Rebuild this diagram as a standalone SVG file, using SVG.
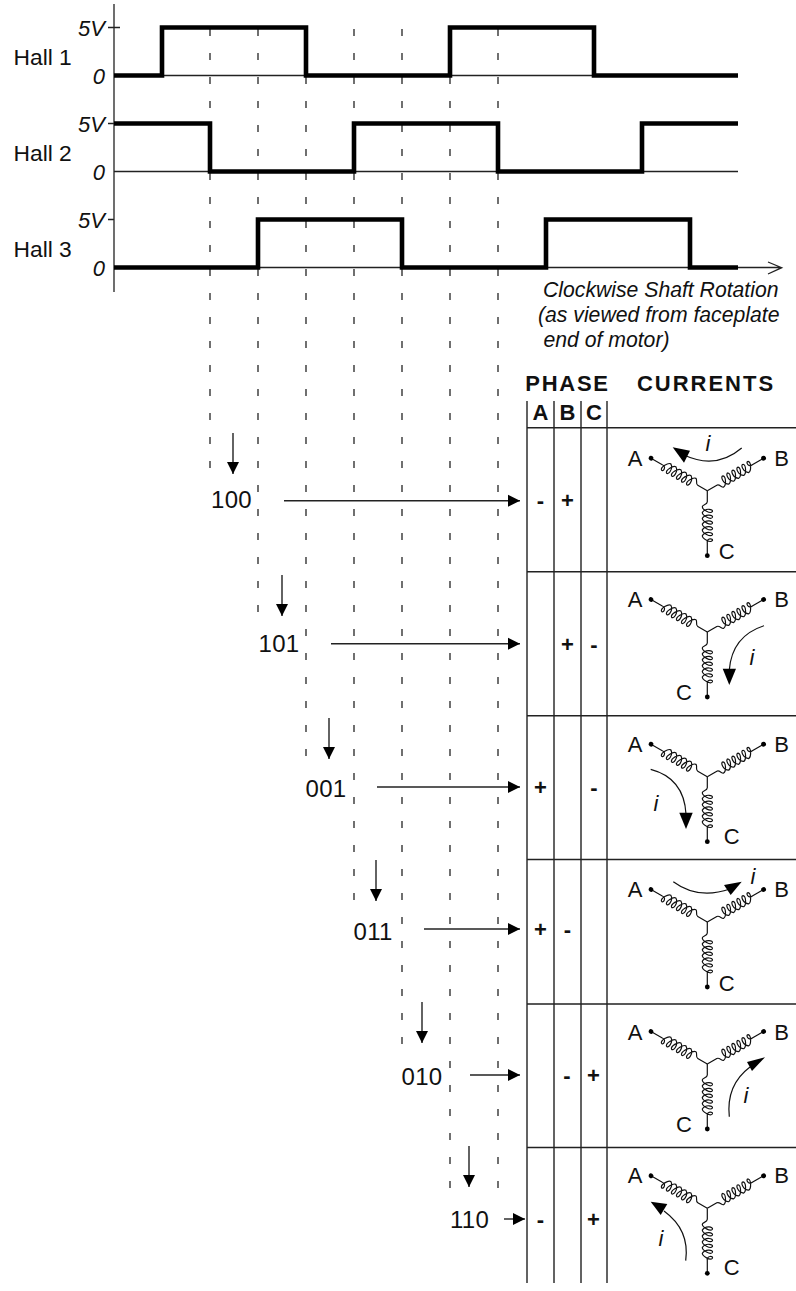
<svg xmlns="http://www.w3.org/2000/svg" xmlns:xlink="http://www.w3.org/1999/xlink" width="796" height="1291" viewBox="0 0 796 1291">
<style>
text{font-family:"Liberation Sans",Arial,sans-serif;font-size:22px;fill:#111}
.i{font-style:italic}.b{font-weight:bold;text-anchor:middle}.m{text-anchor:middle}.e{text-anchor:end}
.hall{font-size:22.8px}.cap{font-size:21.2px;font-style:italic}.st{font-size:24px;letter-spacing:.3px}
.thin{fill:none;stroke:#222;stroke-width:1.3}
.wave{fill:none;stroke:#000;stroke-width:4.6;stroke-linejoin:miter}
.dash{fill:none;stroke:#111;stroke-width:1.2;stroke-dasharray:7 17}
.grid{fill:none;stroke:#222;stroke-width:1.4}
.arr{fill:none;stroke:#222;stroke-width:1.4;marker-end:url(#h)}
.cur{fill:none;stroke:#111;stroke-width:1.2}
.head{fill:#000}
</style>
<defs>
<marker id="h" markerUnits="userSpaceOnUse" markerWidth="12" markerHeight="14" refX="12" refY="7" orient="auto"><path d="M0,1 L12,7 L0,13Z" fill="#000"/></marker>
<g id="leg"><path class="cur" d="M0,0 L11,0 c3,0 3,5 5,5 c3,0 7.5,-8 5,-10 c-2.5,-1.5 -4.2,7 .8,10 c3,0 7.5,-8 5,-10 c-2.5,-1.5 -4.2,7 .8,10 c3,0 7.5,-8 5,-10 c-2.5,-1.5 -4.2,7 .8,10 c3,0 7.5,-8 5,-10 c-2.5,-1.5 -4.2,7 .8,10 c3,0 7.5,-8 5,-10 c-2.5,-1.5 -4.2,7 .8,10 c3,0 7.5,-8 5,-10 c-2.5,-1.5 -3,6 2,5 L65,0"/><circle cx="65" cy="0" r="2.4" fill="#000"/></g>
<g id="star"><use xlink:href="#leg" href="#leg" transform="rotate(210)"/><use xlink:href="#leg" href="#leg" transform="rotate(-30)"/><use xlink:href="#leg" href="#leg" transform="rotate(90)"/></g>
</defs>
<rect width="796" height="1291" fill="#fff"/>
<g id="timing-axes">
<path class="thin" d="M114,4V292M108,27.5H120M108,123.5H114M108,219.5H114M114,75.5H738M114,171.5H738M114,267.5H780M768,262L781.7,267.7L768,274"/>
</g>
<g id="guides">
<path class="dash" d="M210,29V468M258,29V612M306,29V756M354,29V900M402,29V1044M450,29V1188M498,29V1188"/>
</g>
<g id="hall-1"><path class="wave" d="M114,75.5H162V27.5H306V75.5H450V27.5H594V75.5H738"/><text class="hall" x="13.5" y="65">Hall 1</text><text class="i e" x="105" y="36">5V</text><text class="i e" x="105" y="83.5">0</text></g>
<g id="hall-2"><path class="wave" d="M114,123.5H210V171.5H354V123.5H498V171.5H642V123.5H738"/><text class="hall" x="13.5" y="161">Hall 2</text><text class="i e" x="105" y="131.5">5V</text><text class="i e" x="105" y="179.5">0</text></g>
<g id="hall-3"><path class="wave" d="M114,267.5H258V219.5H402V267.5H546V219.5H690V267.5H738"/><text class="hall" x="13.5" y="257">Hall 3</text><text class="i e" x="105" y="227.5">5V</text><text class="i e" x="105" y="275.5">0</text></g>
<g id="caption"><text class="cap" x="543" y="296.5">Clockwise Shaft Rotation</text><text class="cap" x="538" y="321.5">(as viewed from faceplate</text><text class="cap" x="543.5" y="346.5">end of motor)</text></g>
<g id="connectors">
<path class="arr" d="M233,433V474"/><path class="arr" d="M282,575V616"/><path class="arr" d="M329,718V759"/><path class="arr" d="M376,860V901"/><path class="arr" d="M422,1002V1043"/><path class="arr" d="M469,1146V1187"/>
<path class="arr" d="M284,500.7H520"/><path class="arr" d="M331,643.7H520"/><path class="arr" d="M377,787H520"/><path class="arr" d="M424,929H520"/><path class="arr" d="M470,1075H520"/><path class="arr" d="M504,1219H525"/>
</g>
<g id="states"><text class="st" x="211" y="508.3">100</text><text class="st" x="258.5" y="652.3">101</text><text class="st" x="305.5" y="796.5">001</text><text class="st" x="353.5" y="940">011</text><text class="st" x="401.5" y="1084.5">010</text><text class="st" x="450" y="1228">110</text></g>
<g id="table">
<path class="grid" d="M527,401V1283M554,401V1283M581,401V1283M607,401V1283M527,427.7H796M527,571.7H796M527,715.7H796M527,859.5H796M527,1004H796M527,1147.5H796"/>
<text class="b" x="567.5" y="391" style="letter-spacing:1.7px">PHASE</text><text class="b" x="706" y="391" style="letter-spacing:2px">CURRENTS</text>
<text class="b" x="540.5" y="420">A</text><text class="b" x="567.5" y="420">B</text><text class="b" x="594" y="420">C</text>
<text class="b" x="540.5" y="508">-</text><text class="b" x="567.5" y="508">+</text>
<text class="b" x="567.5" y="652">+</text><text class="b" x="594" y="652">-</text>
<text class="b" x="540.5" y="795">+</text><text class="b" x="594" y="795">-</text>
<text class="b" x="540.5" y="937">+</text><text class="b" x="567.5" y="937">-</text>
<text class="b" x="567" y="1083">-</text><text class="b" x="593.5" y="1083">+</text>
<text class="b" x="540.5" y="1227">-</text><text class="b" x="593.5" y="1227">+</text>
</g>
<g id="winding-1"><use xlink:href="#star" href="#star" x="707.3" y="490.7"/><text class="m" x="635" y="466">A</text><text class="m" x="781.7" y="466">B</text><text class="m" x="726.7" y="559">C</text><path class="cur" d="M741.7,448Q716,470 684,455"/><path class="head" d="M672.7,447.3L690,450.7L684,462.7Z"/><text class="i m" x="708" y="451">i</text></g>
<g id="winding-2"><use xlink:href="#star" href="#star" x="707.3" y="632"/><text class="m" x="635" y="607.3">A</text><text class="m" x="781.7" y="607.3">B</text><text class="m" x="684" y="700">C</text><path class="cur" d="M764,625.7Q732,636 729.3,670"/><path class="head" d="M729.3,685L722.7,668.7L736,668.7Z"/><text class="i m" x="752" y="665">i</text></g>
<g id="winding-3"><use xlink:href="#star" href="#star" x="707.3" y="776.7"/><text class="m" x="635" y="751.7">A</text><text class="m" x="781.7" y="751.7">B</text><text class="m" x="731.7" y="844">C</text><path class="cur" d="M650.7,769.3Q684,778 686,814"/><path class="head" d="M686,829L679.3,812.7L692.7,812.7Z"/><text class="i m" x="656" y="811">i</text></g>
<g id="winding-4"><use xlink:href="#star" href="#star" x="707.3" y="922"/><text class="m" x="635" y="897">A</text><text class="m" x="781.7" y="897">B</text><text class="m" x="726.7" y="990.7">C</text><path class="cur" d="M673.3,881.7Q698,900 730,889"/><path class="head" d="M741.7,881.7L724,885L730.7,895Z"/><text class="i m" x="753" y="884">i</text></g>
<g id="winding-5"><use xlink:href="#star" href="#star" x="707.3" y="1064"/><text class="m" x="635" y="1040">A</text><text class="m" x="781.7" y="1040">B</text><text class="m" x="684" y="1131.7">C</text><path class="cur" d="M729.3,1116.7Q726,1085 750,1067"/><path class="head" d="M765,1057.3L747,1062L752,1071Z"/><text class="i m" x="746" y="1103">i</text></g>
<g id="winding-6"><use xlink:href="#star" href="#star" x="707.3" y="1208.3"/><text class="m" x="635" y="1183.3">A</text><text class="m" x="781.7" y="1183.3">B</text><text class="m" x="731.7" y="1275">C</text><path class="cur" d="M685.7,1260.7Q690,1230 664,1211"/><path class="head" d="M650.7,1201.7L667.3,1204L660.7,1215Z"/><text class="i m" x="661" y="1246">i</text></g>
</svg>
